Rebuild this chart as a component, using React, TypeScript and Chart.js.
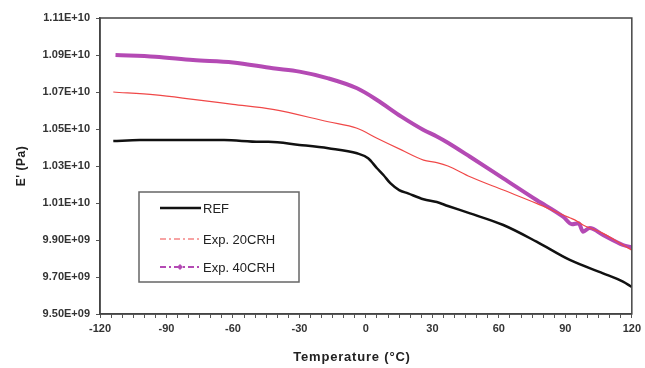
import { useEffect, useRef } from 'react';
import { Chart, registerables } from 'chart.js';

Chart.register(...registerables);

// ---- data (E' in Pa, temperature in °C) ----
const refTemps = [-114, -102, -80, -64, -48, -44, -30, -17, -4, 1, 5, 8, 11, 15, 19, 26, 32, 37, 47, 62, 77, 92, 107, 116, 120];
const refValues = [10.435e9, 10.44e9, 10.44e9, 10.44e9, 10.431e9, 10.431e9, 10.414e9, 10.396e9, 10.369e9, 10.342e9, 10.288e9, 10.25e9, 10.207e9, 10.17e9, 10.152e9, 10.12e9, 10.105e9, 10.084e9, 10.044e9, 9.981e9, 9.891e9, 9.792e9, 9.72e9, 9.675e9, 9.646e9];

const exp20Temps = [-114, -95, -78, -60, -42, -17, -4, 5, 16, 26, 32, 37, 47, 62, 77, 89, 92, 94, 98, 107, 116, 120];
const exp20Values = [10.7e9, 10.684e9, 10.66e9, 10.633e9, 10.606e9, 10.539e9, 10.504e9, 10.45e9, 10.387e9, 10.332e9, 10.318e9, 10.3e9, 10.242e9, 10.17e9, 10.098e9, 10.035e9, 10.02e9, 10.01e9, 9.981e9, 9.936e9, 9.873e9, 9.845e9];

const exp40Temps = [-113, -95, -78, -60, -42, -30, -17, -4, 5, 16, 26, 32, 37, 47, 62, 77, 89, 93, 96, 98, 101, 107, 116, 120];
const exp40Values = [10.9e9, 10.891e9, 10.873e9, 10.86e9, 10.828e9, 10.81e9, 10.774e9, 10.72e9, 10.657e9, 10.567e9, 10.495e9, 10.46e9, 10.426e9, 10.35e9, 10.233e9, 10.116e9, 10.026e9, 9.985e9, 9.99e9, 9.945e9, 9.965e9, 9.927e9, 9.873e9, 9.86e9];

const seriesNames = ['REF', 'Exp. 20CRH', 'Exp. 40CRH'];
const seriesColors = ['#111111', '#f04848', '#b44ab4'];

const yTickValues = [9.5e9, 9.7e9, 9.9e9, 10.1e9, 10.3e9, 10.5e9, 10.7e9, 10.9e9, 11.1e9];
const xMajorStep = 30;
const xMinorStep = 5;
const xTitle = 'Temperature (°C)';
const yTitle = "E' (Pa)";

const FONT = '"Liberation Sans", Arial, sans-serif';

function fmtExp(v: number): string {
  const s = v.toExponential(2);
  const [m, e] = s.split('e');
  const sign = e[0] === '-' ? '-' : '+';
  const d = e.replace(/[+-]/, '').padStart(2, '0');
  return m + 'E' + sign + d;
}

const toPoints = (xs: number[], ys: number[]) => xs.map((x, i) => ({ x, y: ys[i] }));

const framePlugin = {
  id: 'frame',
  afterDraw(chart: any) {
    const { ctx, chartArea } = chart;
    ctx.save();
    ctx.strokeStyle = '#444';
    ctx.lineWidth = 1.5;
    ctx.strokeRect(chartArea.left, chartArea.top, chartArea.right - chartArea.left, chartArea.bottom - chartArea.top);

    // axis titles
    ctx.fillStyle = '#222';
    ctx.font = `bold 13px ${FONT}`;
    (ctx as any).letterSpacing = '0.8px';
    ctx.textAlign = 'center';
    ctx.textBaseline = 'middle';
    ctx.fillText(xTitle, 352, 357);
    (ctx as any).letterSpacing = '0.5px';
    ctx.font = `bold 12px ${FONT}`;
    ctx.translate(22, (chartArea.top + chartArea.bottom) / 2);
    ctx.rotate(-Math.PI / 2);
    ctx.fillText(yTitle, 0, 0);
    ctx.restore();

    // legend
    ctx.save();
    (ctx as any).letterSpacing = '0px';
    const bx = 139, by = 192, bw = 160, bh = 90;
    ctx.fillStyle = '#fff';
    ctx.fillRect(bx, by, bw, bh);
    ctx.strokeStyle = '#666';
    ctx.lineWidth = 1.5;
    ctx.strokeRect(bx, by, bw, bh);
    const rows = [208, 239, 267];
    ctx.font = `13px ${FONT}`;
    ctx.textAlign = 'left';
    ctx.textBaseline = 'middle';
    rows.forEach((ry, i) => {
      ctx.beginPath();
      ctx.strokeStyle = seriesColors[i];
      if (i === 0) {
        ctx.lineWidth = 2.5;
        ctx.setLineDash([]);
      } else {
        ctx.lineWidth = i === 1 ? 1.2 : 2;
        ctx.setLineDash([6, 3, 2, 3]);
      }
      ctx.moveTo(160, ry);
      ctx.lineTo(201, ry);
      ctx.stroke();
      ctx.setLineDash([]);
      if (i === 2) {
        ctx.fillStyle = seriesColors[i];
        ctx.beginPath();
        ctx.moveTo(180, ry - 3);
        ctx.lineTo(183, ry);
        ctx.lineTo(180, ry + 3);
        ctx.lineTo(177, ry);
        ctx.closePath();
        ctx.fill();
      }
      ctx.fillStyle = '#222';
      ctx.fillText(seriesNames[i], 203, ry + 1);
    });
    ctx.restore();
  },
};

export default function App() {
  const canvasRef = useRef<HTMLCanvasElement | null>(null);

  useEffect(() => {
    if (!canvasRef.current) return;
    const chart = new Chart(canvasRef.current, {
      type: 'line',
      data: {
        datasets: [
          {
            label: seriesNames[0],
            data: toPoints(refTemps, refValues),
            borderColor: seriesColors[0],
            borderWidth: 2.5,
            pointRadius: 0,
            cubicInterpolationMode: 'monotone',
          },
          {
            label: seriesNames[1],
            data: toPoints(exp20Temps, exp20Values),
            borderColor: seriesColors[1],
            borderWidth: 1.2,
            pointRadius: 0,
            cubicInterpolationMode: 'monotone',
          },
          {
            label: seriesNames[2],
            data: toPoints(exp40Temps, exp40Values),
            borderColor: seriesColors[2],
            borderWidth: 4,
            pointRadius: 0,
            cubicInterpolationMode: 'monotone',
          },
        ],
      },
      options: {
        responsive: false,
        animation: false,
        layout: { padding: { top: 18, right: 9, left: 0, bottom: 0 } },
        plugins: {
          legend: { display: false },
          tooltip: { enabled: false },
          title: { display: false },
        },
        scales: {
          x: {
            type: 'linear',
            min: -120,
            max: 120,
            ticks: {
              stepSize: xMinorStep,
              autoSkip: false,
              maxRotation: 0,
              padding: 4,
              color: '#333',
              font: { family: FONT, size: 11, weight: 'bold' },
              callback: (v: any) => (Number(v) % xMajorStep === 0 ? String(v) : ''),
            },
            grid: {
              display: true,
              drawOnChartArea: false,
              drawTicks: true,
              tickLength: 4,
              color: '#555',
              lineWidth: 1,
            },
            border: { display: true, color: '#444', width: 1.5 },
            afterFit: (s: any) => {
              s.height = 54;
            },
          },
          y: {
            type: 'linear',
            min: 9.5e9,
            max: 11.1e9,
            afterBuildTicks: (s: any) => {
              s.ticks = yTickValues.map((v) => ({ value: v }));
            },
            ticks: {
              padding: 6,
              color: '#333',
              font: { family: FONT, size: 11, weight: 'bold' },
              callback: (v: any) => fmtExp(Number(v)),
            },
            grid: {
              display: true,
              drawOnChartArea: false,
              drawTicks: true,
              tickLength: 4,
              color: '#555',
              lineWidth: 1,
            },
            border: { display: true, color: '#444', width: 1.5 },
            afterFit: (s: any) => {
              s.width = 100;
            },
          },
        },
      },
      plugins: [framePlugin],
    } as any);
    return () => chart.destroy();
  }, []);

  return (
    <div style={{ position: 'absolute', left: 0, top: 0, width: 645, height: 368, background: '#fff' }}>
      <canvas ref={canvasRef} width={645} height={368} />
    </div>
  );
}
